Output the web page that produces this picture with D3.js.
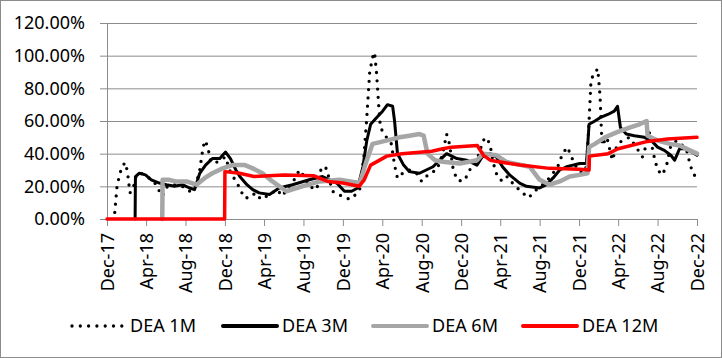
<!DOCTYPE html>
<html>
<head>
<meta charset="utf-8">
<script src="https://cdn.jsdelivr.net/npm/d3@7"></script>
<style>
body { margin: 0; background: #fff; }
text { font-family: "Noto Sans", sans-serif; font-size: 18px; fill: #000; }
</style>
</head>
<body>
<script>
// DEA rates (values in %)

var tickLabels = ['Dec-17','Apr-18','Aug-18','Dec-18','Apr-19','Aug-19','Dec-19','Apr-20',
	'Aug-20','Dec-20','Apr-21','Aug-21','Dec-21','Apr-22','Aug-22','Dec-22'];
var yTicks = [0, 20, 40, 60, 80, 100, 120];
var seriesNames = ['DEA 1M', 'DEA 3M', 'DEA 6M', 'DEA 12M'];

var dea1m = [['2017-12-25',4],['2018-01-01',20],['2018-01-10',28],['2018-01-19',33],['2018-01-28',34.5],
	['2018-02-04',26],['2018-02-10',16],['2018-02-19',18],['2018-03-02',27],['2018-03-17',28],['2018-04-11',25],
	['2018-05-03',21],['2018-05-12',17],['2018-05-21',14],['2018-06-06',20],['2018-06-27',21],['2018-07-22',20],
	['2018-08-13',17],['2018-09-01',20],['2018-09-14',30],['2018-09-23',42],['2018-09-29',48],['2018-10-08',45],
	['2018-10-17',36],['2018-10-30',34],['2018-11-15',36],['2018-12-03',38],['2018-12-15',30],['2019-01-01',24],
	['2019-01-16',19],['2019-01-29',13],['2019-02-16',13],['2019-03-05',16],['2019-03-23',12],['2019-04-18',15],
	['2019-05-12',18],['2019-05-27',14],['2019-06-18',20],['2019-07-07',25],['2019-07-19',30],['2019-08-04',26],
	['2019-08-19',20],['2019-09-11',18],['2019-09-26',32],['2019-10-11',31],['2019-10-30',17],['2019-11-15',15],
	['2019-12-01',14],['2019-12-22',12],['2020-01-10',15],['2020-01-22',18],['2020-02-04',38],['2020-02-13',62],
	['2020-02-22',90],['2020-03-02',99],['2020-03-08',102],['2020-03-14',90],['2020-03-20',72],['2020-03-26',56],
	['2020-04-14',50],['2020-04-29',46],['2020-05-09',33],['2020-05-18',25],['2020-06-03',28],['2020-06-24',30],
	['2020-07-16',28],['2020-08-01',23],['2020-08-25',28],['2020-09-17',30],['2020-10-05',40],['2020-10-17',52],
	['2020-10-26',46],['2020-11-06',31],['2020-11-18',24],['2020-12-06',23],['2020-12-18',26],['2021-01-04',33],
	['2021-01-22',38],['2021-02-07',48],['2021-02-16',50],['2021-02-28',46],['2021-03-11',34],['2021-03-23',26],
	['2021-04-08',23],['2021-04-23',26],['2021-05-09',22],['2021-05-24',19],['2021-06-09',16],['2021-06-28',13],
	['2021-07-16',17],['2021-08-04',20],['2021-08-22',23],['2021-09-11',28],['2021-09-26',32],['2021-10-11',40],
	['2021-10-26',44],['2021-11-12',36],['2021-11-27',30],['2021-12-12',28],['2021-12-24',32],['2022-01-01',60],
	['2022-01-07',85],['2022-01-16',89],['2022-01-28',92],['2022-02-04',75],['2022-02-10',45],['2022-02-25',50],
	['2022-03-14',36],['2022-03-30',46],['2022-04-14',48],['2022-05-06',50],['2022-05-27',44],['2022-06-15',38],
	['2022-06-28',46],['2022-07-07',53],['2022-07-19',40],['2022-08-01',30],['2022-08-16',27],['2022-08-29',33],
	['2022-09-11',45],['2022-09-29',48],['2022-10-17',45],['2022-10-30',42],['2022-11-09',34],['2022-11-18',28],
	['2022-12-01',25]];

var dea3m = [['2018-02-26',0],['2018-02-27',26],['2018-03-11',28],['2018-03-30',27],['2018-04-17',24],
	['2018-05-12',22],['2018-06-03',21],['2018-06-28',20],['2018-07-22',21],['2018-08-13',19],['2018-08-29',18],
	['2018-09-14',28],['2018-10-02',33],['2018-10-23',37],['2018-11-15',37],['2018-12-03',41],['2018-12-18',37],
	['2019-01-04',30],['2019-01-16',26],['2019-02-07',21],['2019-02-25',18],['2019-03-17',16],['2019-04-18',15],
	['2019-05-18',19],['2019-06-28',21],['2019-08-19',24],['2019-09-29',26],['2019-10-21',24],['2019-11-12',22],
	['2019-12-06',17],['2019-12-28',17],['2020-01-16',19],['2020-02-01',32],['2020-02-13',48],['2020-02-25',58],
	['2020-03-14',62],['2020-04-02',66],['2020-04-17',70],['2020-05-03',69],['2020-05-09',60],['2020-05-18',40],
	['2020-06-06',33],['2020-06-24',29],['2020-07-25',28],['2020-09-05',32],['2020-09-26',36],['2020-10-17',40],
	['2020-11-18',37],['2020-12-18',36],['2021-01-19',33],['2021-02-04',38],['2021-02-28',40],['2021-03-20',38],
	['2021-04-08',32],['2021-04-30',27],['2021-05-31',22],['2021-06-21',20],['2021-08-01',19],['2021-08-22',21],
	['2021-09-11',25],['2021-10-02',30],['2021-10-23',32],['2021-11-12',33],['2021-12-03',34],['2021-12-24',34],
	['2022-01-01',58],['2022-01-19',60],['2022-02-04',62],['2022-02-28',64],['2022-03-20',66],['2022-03-30',69],
	['2022-04-08',56],['2022-04-26',52],['2022-05-21',51],['2022-06-21',50],['2022-07-13',48],['2022-08-01',44],
	['2022-08-22',42],['2022-09-11',39],['2022-09-23',36],['2022-10-08',43],['2022-10-27',43],['2022-11-15',41],
	['2022-12-01',39]];

var dea6m = [['2018-05-21',0],['2018-05-22',24],['2018-06-12',24],['2018-07-01',23],['2018-08-04',23],
	['2018-09-04',21],['2018-09-29',25],['2018-10-23',28],['2018-11-24',31],['2018-12-24',33],['2019-02-01',33],
	['2019-02-25',31],['2019-03-27',28],['2019-04-27',23],['2019-06-09',17],['2019-07-28',20],['2019-09-20',23],
	['2019-11-21',24],['2020-01-22',22],['2020-02-13',36],['2020-03-02',46],['2020-04-14',48],['2020-05-24',50],
	['2020-06-24',51],['2020-07-25',52],['2020-08-07',51],['2020-08-19',40],['2020-09-11',36],['2020-10-05',35],
	['2020-11-27',34],['2021-01-19',36],['2021-02-07',40],['2021-03-20',39],['2021-04-20',35],['2021-07-01',32],
	['2021-08-01',24],['2021-09-01',21],['2021-10-02',23],['2021-11-02',26],['2021-12-03',27],['2021-12-27',28],
	['2022-01-01',44],['2022-01-19',46],['2022-02-19',50],['2022-03-27',53],['2022-05-06',56],['2022-06-06',58],
	['2022-06-28',60],['2022-07-01',51],['2022-08-01',48],['2022-09-08',46],['2022-10-08',45],['2022-11-09',42],
	['2022-12-01',40]];

var dea12m = [['2017-12-01',0],['2018-11-30',0],['2018-12-01',29],['2019-01-15',28],['2019-03-01',26],
	['2019-06-01',27],['2019-09-01',26.5],['2019-10-15',23],['2019-12-01',22],['2020-01-20',20],['2020-02-05',24],
	['2020-02-25',33],['2020-04-15',38.5],['2020-06-01',40],['2020-09-01',41.5],['2020-10-05',43],['2020-11-01',44],
	['2021-01-20',45],['2021-02-08',39],['2021-03-01',36],['2021-04-15',34.5],['2021-06-01',33],['2021-09-01',31],
	['2021-12-01',30.5],['2022-01-01',30],['2022-01-02',38.5],['2022-03-01',40],['2022-04-01',43],
	['2022-07-01',47.5],['2022-09-01',49],['2022-12-01',50]];

var width = 722,
	height = 358;

var parseDate = d3.timeParse('%Y-%m-%d'),
	parseTick = d3.timeParse('%b-%y');

var svg = d3.select('body').append('svg')
	.attr('width', width)
	.attr('height', height);

// outer frame
svg.append('rect')
	.attr('x', 0.5).attr('y', 0.5)
	.attr('width', width - 1).attr('height', height - 1)
	.attr('fill', '#fff')
	.attr('stroke', '#8c8c8c');

var x = d3.scaleTime()
	.domain([parseTick('Dec-17'), parseTick('Dec-22')])
	.range([107, 697]);

var y = d3.scaleLinear()
	.domain([0, 120])
	.range([219, 23]);

// gridlines + y labels in one axis
var yAxis = svg.append('g')
	.attr('transform', 'translate(697,0)')
	.call(d3.axisLeft(y).tickValues(yTicks).tickSize(597).tickPadding(15)
		.tickFormat(function(d) { return d3.format('.2f')(d) + '%'; }));
yAxis.select('.domain').remove();
yAxis.selectAll('line').attr('stroke', '#8c8c8c');
yAxis.selectAll('text').style('font-size', '18px').attr('fill', '#000');

svg.append('line')
	.attr('x1', 107.5).attr('x2', 107.5)
	.attr('y1', y(120)).attr('y2', y(0))
	.attr('stroke', '#8c8c8c');

var xAxis = svg.append('g')
	.attr('transform', 'translate(0,' + y(0) + ')')
	.call(d3.axisBottom(x).tickValues(tickLabels.map(parseTick)).tickSize(7)
		.tickFormat(function(d, i) { return tickLabels[i]; }));
xAxis.select('.domain').attr('stroke', '#8c8c8c');
xAxis.selectAll('line').attr('stroke', '#8c8c8c');
xAxis.selectAll('text')
	.attr('transform', 'rotate(-90)')
	.attr('x', -14)
	.attr('y', 0)
	.attr('dy', '0.35em')
	.attr('text-anchor', 'end')
	.attr('fill', '#000')
	.style('font-size', '18px');

var line = d3.line()
	.x(function(d) { return x(parseDate(d[0])); })
	.y(function(d) { return y(d[1]); });

var styles = [
	{ data: dea1m, color: '#000', w: 3.3, dash: '0 8.3' },
	{ data: dea3m, color: '#000', w: 3, dash: null },
	{ data: dea6m, color: '#a6a6a6', w: 4.5, dash: null },
	{ data: dea12m, color: '#ff0000', w: 3.5, dash: null }
];

styles.forEach(function(s) {
	svg.append('path')
		.datum(s.data)
		.attr('d', line)
		.attr('fill', 'none')
		.attr('stroke', s.color)
		.attr('stroke-width', s.w)
		.attr('stroke-linecap', 'round')
		.attr('stroke-linejoin', 'round')
		.attr('stroke-dasharray', s.dash);
});

// legend
var legendX = [72, 223, 373, 523];
var legend = svg.selectAll('.legend')
	.data(styles)
	.enter().append('g')
	.attr('class', 'legend')
	.attr('transform', function(d, i) { return 'translate(' + legendX[i] + ',326)'; });

legend.append('line')
	.attr('x1', 0).attr('x2', function(d, i) { return i == 0 ? 50 : 54; })
	.attr('stroke', function(d) { return d.color; })
	.attr('stroke-width', function(d) { return d.dash ? 3.3 : 4; })
	.attr('stroke-linecap', 'round')
	.attr('stroke-dasharray', function(d) { return d.dash; });

legend.append('text')
	.attr('x', function(d, i) { return i == 0 ? 58 : 59; })
	.attr('y', 6)
	.text(function(d, i) { return seriesNames[i]; });
</script>
</body>
</html>
